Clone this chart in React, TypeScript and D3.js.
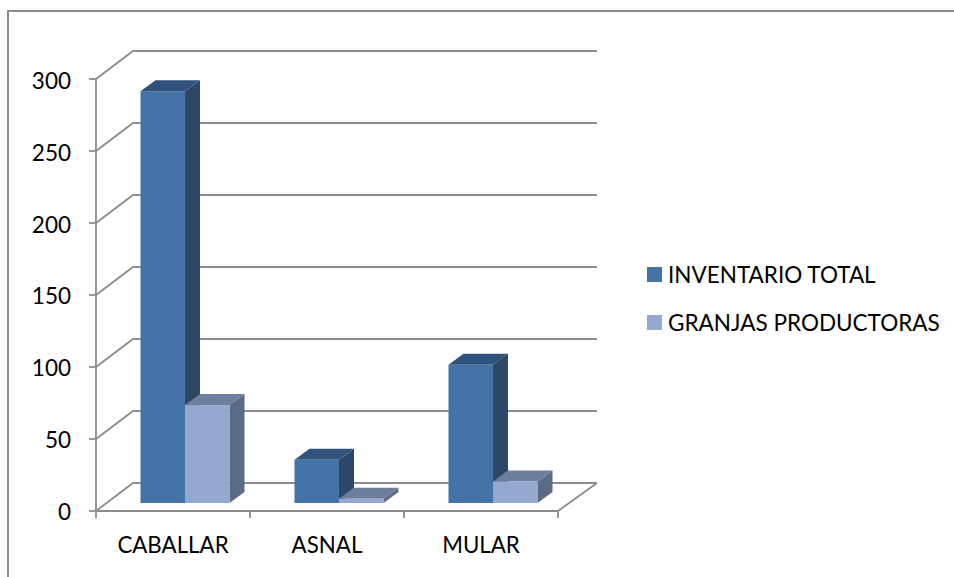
import { useEffect, useRef } from "react";
import * as d3 from "d3";

const categories = ["CABALLAR", "ASNAL", "MULAR"];
const seriesNames = ["INVENTARIO TOTAL", "GRANJAS PRODUCTORAS"];
const inventarioTotal = [286, 30, 96];
const granjasProductoras = [68, 3, 15];
const yTicks = [0, 50, 100, 150, 200, 250, 300];

const palette = [
  { front: "#4572a7", top: "#32527e", side: "#2c4768" },
  { front: "#94a8d0", top: "#6e7f9e", side: "#5c6b85" },
];

const font = "Lato, 'Open Sans', sans-serif";
const gridColor = "#8c8c8c";

export default function App() {
  const svgRef = useRef<SVGSVGElement | null>(null);

  useEffect(() => {
    if (!svgRef.current) return;
    const svg = d3.select(svgRef.current);
    svg.selectAll("*").remove();

    const left = 96;
    const right = 558;
    const bottom = 511;
    const top = 79;
    const depth = { x: 37, y: -28 };
    const barDepth = { x: 15, y: -11 };
    const barBase = 503;

    const x = d3.scaleBand().domain(categories).range([left, right]);
    const series = d3.scaleBand<number>().domain([0, 1]).range([44.5, 133.5]);
    const y = d3.scaleLinear().domain([0, 300]).range([bottom, top]);
    // tick label baselines do not sit at a fixed distance from the ticks
    const yLabel = d3.scaleLinear().domain([0, 300]).range([519.5, 89]);
    const barHeight = (v: number) => bottom - y(v);

    // outer frame, only top and left are inside the picture
    svg
      .append("path")
      .attr("d", "M8,577V11H954")
      .attr("fill", "none")
      .attr("stroke", gridColor)
      .attr("stroke-width", 2);

    // back gridlines with their slanted side part
    const grid = svg.append("g").attr("fill", "none").attr("stroke", gridColor).attr("stroke-width", 1.8);
    yTicks.forEach((t) => {
      grid
        .append("path")
        .attr(
          "d",
          d3.line()([
            [left, y(t)],
            [left + depth.x, y(t) + depth.y],
            [right + depth.x + 2, y(t) + depth.y],
          ]) ?? "",
        );
      grid.append("line").attr("x1", left - 7).attr("x2", left).attr("y1", y(t)).attr("y2", y(t));
    });

    // floor and axes
    grid
      .append("path")
      .attr(
        "d",
        d3.line()([
          [left, top],
          [left, bottom],
          [right, bottom],
          [right + depth.x + 2, bottom + depth.y],
        ]) ?? "",
      );
    [...categories.map((c) => x(c) ?? 0), right].forEach((px) => {
      grid.append("line").attr("x1", px).attr("x2", px).attr("y1", bottom).attr("y2", bottom + 7);
    });

    svg
      .append("g")
      .selectAll("text")
      .data(yTicks)
      .join("text")
      .attr("x", 71)
      .attr("y", (d) => yLabel(d))
      .attr("text-anchor", "end")
      .attr("font-family", font)
      .attr("font-size", 22.5)
      .attr("fill", "#000")
      .text((d) => d);

    svg
      .append("g")
      .selectAll("text")
      .data(categories)
      .join("text")
      .attr("x", (d) => (x(d) ?? 0) + x.bandwidth() / 2)
      .attr("y", 552.5)
      .attr("text-anchor", "middle")
      .attr("font-family", font)
      .attr("font-size", 22.3)
      .attr("fill", "#000")
      .text((d) => d);

    // bars, each one a front, top and side face
    const bars = [inventarioTotal, granjasProductoras].flatMap((values, s) =>
      values.map((value, i) => ({ value, s, cat: categories[i] })),
    );
    const barG = svg
      .append("g")
      .selectAll("g")
      .data(bars)
      .join("g")
      .attr("transform", (d) => `translate(${(x(d.cat) ?? 0) + (series(d.s) ?? 0)},${barBase})`);

    const w = series.bandwidth();
    barG
      .append("path")
      .attr("fill", (d) => palette[d.s].side)
      .attr("d", (d) => {
        const h = barHeight(d.value);
        return `M${w},0L${w + barDepth.x},${barDepth.y}L${w + barDepth.x},${barDepth.y - h}L${w},${-h}Z`;
      });
    barG
      .append("path")
      .attr("fill", (d) => palette[d.s].top)
      .attr("d", (d) => {
        const h = barHeight(d.value);
        return `M0,${-h}L${barDepth.x},${barDepth.y - h}L${w + barDepth.x},${barDepth.y - h}L${w},${-h}Z`;
      });
    barG
      .append("rect")
      .attr("y", (d) => -barHeight(d.value))
      .attr("width", w)
      .attr("height", (d) => barHeight(d.value))
      .attr("fill", (d) => palette[d.s].front);

    // legend
    const legend = svg
      .append("g")
      .selectAll("g")
      .data(seriesNames)
      .join("g")
      .attr("transform", (_, i) => `translate(647,${267 + i * 48})`);
    legend
      .append("rect")
      .attr("width", 15)
      .attr("height", 15)
      .attr("fill", (_, i) => palette[i].front);
    legend
      .append("text")
      .attr("x", 21)
      .attr("y", 16)
      .attr("font-family", font)
      .attr("font-size", 22.5)
      .attr("fill", "#000")
      .text((d) => d);
  }, []);

  return (
    <div style={{ position: "absolute", left: 0, top: 0 }}>
      <svg ref={svgRef} width={954} height={577} style={{ display: "block" }} />
    </div>
  );
}
